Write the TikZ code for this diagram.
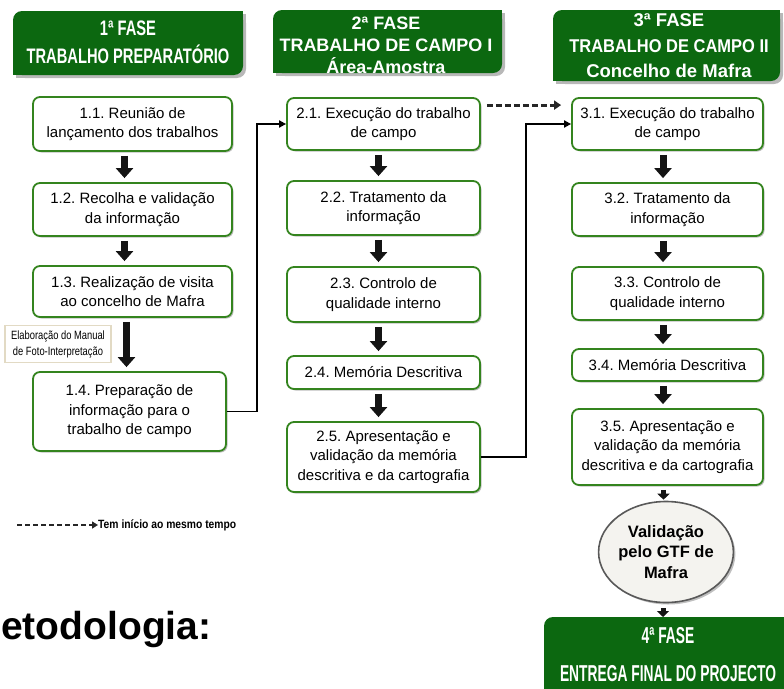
\documentclass[tikz,border=0pt]{standalone}
\usepackage{fontspec}
\setmainfont{Liberation Sans}
\newfontfamily\fA[FakeStretch=0.70]{Liberation Sans}
\newfontfamily\fB[FakeStretch=0.60]{Liberation Sans}
\newfontfamily\fC[FakeStretch=0.89]{Liberation Sans}
\newfontfamily\fD[FakeStretch=0.86]{Liberation Sans}
\newfontfamily\fE[FakeStretch=0.78]{Liberation Sans}
\usetikzlibrary{arrows.meta,shapes.geometric,calc,shadows}
\definecolor{hgreen}{RGB}{12,104,16}
\definecolor{bgreen}{RGB}{52,132,30}
\definecolor{ellfill}{RGB}{244,243,239}
\definecolor{lbltan}{RGB}{226,218,196}
\tikzset{
  box/.style={draw=bgreen, line width=1.8pt, fill=white, rounded corners=7pt, align=center,
    inner sep=2pt, font=\fontsize{15}{19.5}\selectfont,
    drop shadow={shadow xshift=1.5pt, shadow yshift=-1.5pt, fill=black!25, opacity=1}},
  htext/.style={text=white, align=center, inner sep=0pt},
  blk/.style={line width=7pt, draw=black!92, -{Triangle[width=17pt,length=10pt]}},
  blks/.style={line width=5pt, draw=black!92, -{Triangle[width=12pt,length=6pt]}},
  conn/.style={line width=1.8pt, draw=black, -{Triangle[width=7pt,length=7pt]}},
  dsh/.style={line width=3pt, draw=black!85, dash pattern=on 6pt off 3pt, -{Triangle[width=9pt,length=7pt]}},
  dshl/.style={line width=1.8pt, draw=black!85, dash pattern=on 5pt off 3pt, -{Triangle[width=7pt,length=6pt]}},
  lbl/.style={draw=lbltan, line width=1.5pt, fill=white, align=center, inner sep=1pt,
    font=\fE\fontsize{12}{16}\selectfont},
  ell/.style={ellipse, draw=black!65, line width=1.6pt, fill=ellfill, inner sep=0pt, align=center,
    font=\bfseries\fontsize{16.5}{20.5}\selectfont,
    drop shadow={shadow xshift=2pt, shadow yshift=-2pt, fill=black!25, opacity=1}}
}
\newcommand\hdr[5]{%
  \fill[black!28] (#2+3,#3+3) [rounded corners=9pt] rectangle (#4+3,#5+3);
  \fill[black!28] (#4-7,#3+3) rectangle (#4+3,#3+13);
  \fill[black!28] (#2+3,#5-7) rectangle (#2+13,#5+3);
  \fill[hgreen, rounded corners=9pt] (#2,#3) rectangle (#4,#5);
  \fill[hgreen] (#4-10,#3) rectangle (#4,#3+10);
  \fill[hgreen] (#2,#5-10) rectangle (#2+10,#5);
  \path (#2,#3) coordinate (#1-nw) (#4,#5) coordinate (#1-se);
}
\newcommand\blkarrow[3]{%
  \path ($(#1.south)+(#3,4)$) coordinate (#1-o) ($(#2.north)+(0,-4)$) coordinate (#2-i);
  \draw[blk] (#1-o) -- (#1-o |- #2-i);
}
\begin{document}
\frenchspacing
\begin{tikzpicture}[x=1pt,y=-1pt]
\useasboundingbox (0,0) rectangle (784,688);
\clip (0,0) rectangle (784,688);

% headers
\hdr{g1}{13}{11}{243}{75}
\node[htext, font=\fA\bfseries\fontsize{21}{28}\selectfont] (h1) at (128,42) {1ª FASE\\TRABALHO PREPARATÓRIO};
\hdr{g2}{273}{10}{502}{73}
\node[htext, font=\bfseries\fontsize{18}{22}\selectfont] (h2) at (386,45) {2ª FASE\\TRABALHO DE CAMPO I\\Área-Amostra};
\hdr{g3}{553}{10}{780}{81}
\node[htext, font=\bfseries\fontsize{18.5}{25.5}\selectfont] (h3) at (669,46) {3ª FASE\\{\fC TRABALHO DE CAMPO II}\\Concelho de Mafra};
\hdr{g4}{544}{617}{800}{710}
\node[htext, font=\fB\bfseries\fontsize{23}{38}\selectfont] (h4) at (668,655) {4ª FASE\\ENTREGA FINAL DO PROJECTO};

% column 1
\node[box, minimum width=199pt, minimum height=54pt] (p11) at (132.5,124) {1.1. Reunião de\\lançamento dos trabalhos};
\node[box, minimum width=199pt, minimum height=53pt] (p12) at (132.5,209.5) {1.2. Recolha e validação\\da informação};
\node[box, minimum width=199pt, minimum height=51pt] (p13) at (132.5,291.5) {1.3. Realização de visita\\ao concelho de Mafra};
\node[box, minimum width=193pt, minimum height=79pt] (p14) at (129.5,411.5) {1.4. Preparação de\\informação para o\\trabalho de campo};
\node[lbl, minimum width=106pt, minimum height=37pt] (lab) at (58,344) {Elaboração do Manual\\de Foto-Interpretação};

% column 2
\node[box, minimum width=193pt, minimum height=52pt] (p21) at (383.5,124) {2.1. Execução do trabalho\\de campo};
\node[box, minimum width=193pt, minimum height=54pt] (p22) at (383.5,208) {2.2. Tratamento da\\informação};
\node[box, minimum width=193pt, minimum height=55pt] (p23) at (383.5,294.5) {2.3. Controlo de\\qualidade interno};
\node[box, minimum width=193pt, minimum height=33pt] (p24) at (383.5,372.5) {2.4. Memória Descritiva};
\node[box, minimum width=193pt, minimum height=70pt] (p25) at (383.5,457) {2.5. Apresentação e\\validação da memória\\descritiva e da cartografia};

% column 3
\node[box, minimum width=191pt, minimum height=52pt] (p31) at (667.5,124) {3.1. Execução do trabalho\\de campo};
\node[box, minimum width=191pt, minimum height=53pt] (p32) at (667.5,209.5) {3.2. Tratamento da\\informação};
\node[box, minimum width=191pt, minimum height=53pt] (p33) at (667.5,293.5) {3.3. Controlo de\\qualidade interno};
\node[box, minimum width=191pt, minimum height=32pt] (p34) at (667.5,365) {3.4. Memória Descritiva};
\node[box, minimum width=191pt, minimum height=76pt] (p35) at (667.5,447) {3.5. Apresentação e\\validação da memória\\descritiva e da cartografia};

\node[ell, minimum width=132pt, minimum height=101pt] (val) at (666,552) {Validação\\pelo GTF de\\Mafra};

% block arrows
\blkarrow{p11}{p12}{-8}
\blkarrow{p12}{p13}{-8}
\blkarrow{p13}{p14}{-6}
\blkarrow{p21}{p22}{-5}
\blkarrow{p22}{p23}{-5}
\blkarrow{p23}{p24}{-5}
\blkarrow{p24}{p25}{-5}
\blkarrow{p31}{p32}{-4.5}
\blkarrow{p32}{p33}{-4.5}
\blkarrow{p33}{p34}{-4.5}
\blkarrow{p34}{p35}{-4.5}
\path ($(p35.south)+(-4,4)$) coordinate (p35-e) ($(val.north)+(0,-1)$) coordinate (val-i);
\draw[blks] (p35-e) -- (p35-e |- val-i);
\path ($(val.south)+(-3,5)$) coordinate (val-e);
\draw[blks] (val-e) -- (val-e |- g4-nw);

% connectors
\draw[conn] (p14.east) -- ++(30,0) |- (p21.west);
\draw[conn] (p25.east) -- ++(45,0) |- (p31.west);
\draw[dsh] ($(p21.north east)+(6,8)$) -- ($(p31.north west)+(-10,8)$);

% legend
\node[anchor=west, inner sep=0pt, font=\fD\bfseries\fontsize{12}{14}\selectfont] (lgt) at (98,525) {Tem início ao mesmo tempo};
\coordinate (lg1) at (17,525);
\draw[dshl] (lg1) -- (lgt.west);

\node[anchor=base west, inner sep=0pt, font=\bfseries\fontsize{39}{43}\selectfont] (met) at (1,639) {etodologia:};
\end{tikzpicture}
\end{document}
